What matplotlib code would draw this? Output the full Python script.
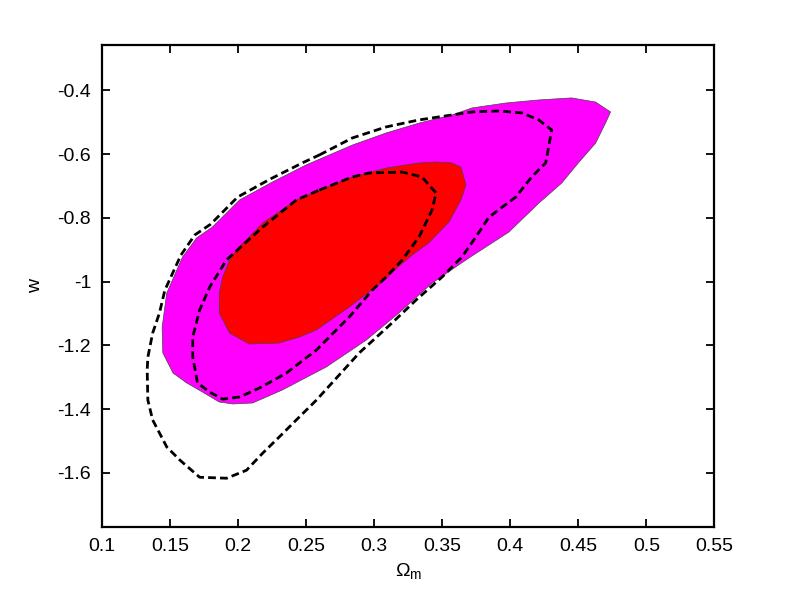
import matplotlib
matplotlib.use('Agg')
import matplotlib.pyplot as plt

plt.rcParams['font.family'] = ['Liberation Sans', 'DejaVu Sans']
plt.rcParams['mathtext.fontset'] = 'custom'
plt.rcParams['mathtext.rm'] = 'Liberation Sans'
plt.rcParams['mathtext.it'] = 'Liberation Sans'

# contour outlines (Omega_m, w)
outer_fill_x = [0.4737, 0.470, 0.4627, 0.450, 0.4378, 0.421, 0.3989, 0.3696, 0.3424, 0.318,
                0.294, 0.2647, 0.2325, 0.2105, 0.196, 0.186, 0.1738, 0.162, 0.152, 0.1445,
                0.144, 0.1474, 0.159, 0.1694, 0.181, 0.201, 0.225, 0.250, 0.2838, 0.3087,
                0.3329, 0.3571, 0.3718, 0.3967, 0.4209, 0.4451, 0.4627]
outer_fill_y = [-0.468, -0.503, -0.566, -0.628, -0.691, -0.754, -0.845, -0.926, -1.005, -1.099,
                -1.184, -1.268, -1.340, -1.381, -1.384, -1.378, -1.347, -1.318, -1.287, -1.224,
                -1.143, -1.036, -0.923, -0.863, -0.829, -0.744, -0.688, -0.634, -0.572, -0.534,
                -0.503, -0.4775, -0.4555, -0.440, -0.4304, -0.424, -0.437]

inner_fill_x = [0.3571, 0.3637, 0.3674, 0.3637, 0.355, 0.340, 0.3278, 0.3168, 0.3058, 0.2816,
                0.2574, 0.245, 0.230, 0.208, 0.1936, 0.186, 0.186, 0.1885, 0.1936, 0.1986,
                0.218, 0.2427, 0.2596, 0.2838, 0.3087, 0.3329, 0.3454]
inner_fill_y = [-0.628, -0.641, -0.697, -0.744, -0.813, -0.879, -0.917, -0.957, -1.0015, -1.080,
                -1.152, -1.174, -1.193, -1.196, -1.162, -1.099, -1.036, -0.986, -0.932, -0.901,
                -0.816, -0.744, -0.713, -0.672, -0.644, -0.628, -0.625]

inner_dash_x = [0.2596, 0.2838, 0.2963, 0.3205, 0.335, 0.3454, 0.3424, 0.3329, 0.3205, 0.3087,
                0.2985, 0.2816, 0.2574, 0.2354, 0.2156, 0.201, 0.1885, 0.179, 0.170, 0.1665,
                0.1665, 0.1716, 0.179, 0.1914, 0.218, 0.2427, 0.2596]
inner_dash_y = [-0.713, -0.672, -0.6595, -0.6565, -0.672, -0.722, -0.776, -0.860, -0.9325, -0.986,
                -1.027, -1.111, -1.215, -1.287, -1.334, -1.362, -1.369, -1.347, -1.318, -1.237,
                -1.174, -1.089, -1.017, -0.932, -0.829, -0.744, -0.713]

outer_dash_x = [0.2596, 0.2838, 0.3087, 0.3329, 0.3571, 0.3718, 0.3916, 0.4084, 0.4209, 0.4304,
                0.4282, 0.426, 0.4157, 0.404, 0.3843, 0.3747, 0.3644, 0.3498, 0.3307, 0.313,
                0.2889, 0.2574, 0.2427, 0.230, 0.218, 0.206, 0.1914, 0.1716, 0.157, 0.1474,
                0.137, 0.1335, 0.133, 0.1335, 0.137, 0.142, 0.146, 0.1578, 0.168, 0.1797,
                0.1995, 0.2237, 0.2485, 0.2596]
outer_dash_y = [-0.603, -0.5497, -0.515, -0.493, -0.4775, -0.468, -0.465, -0.471, -0.493, -0.5245,
                -0.578, -0.628, -0.672, -0.735, -0.798, -0.860, -0.923, -0.986, -1.058, -1.130,
                -1.224, -1.372, -1.434, -1.488, -1.538, -1.592, -1.617, -1.614, -1.560, -1.519,
                -1.434, -1.372, -1.278, -1.237, -1.162, -1.099, -1.027, -0.917, -0.854, -0.820,
                -0.735, -0.678, -0.625, -0.603]

xticks = [0.1, 0.15, 0.2, 0.25, 0.3, 0.35, 0.4, 0.45, 0.5, 0.55]
xticklabels = ['0.1', '0.15', '0.2', '0.25', '0.3', '0.35', '0.4', '0.45', '0.5', '0.55']
yticks = [-1.6, -1.4, -1.2, -1.0, -0.8, -0.6, -0.4]
yticklabels = ['-1.6', '-1.4', '-1.2', '-1', '-0.8', '-0.6', '-0.4']

fig = plt.figure(figsize=(7.9, 5.92), dpi=100)
ax = fig.add_axes([0.1295, 0.1098, 0.7747, 0.8142])

ax.fill(outer_fill_x, outer_fill_y, color='#ff00ff', edgecolor='#444444', linewidth=0.5)
ax.fill(inner_fill_x, inner_fill_y, color='#ff0000', edgecolor='#444444', linewidth=0.5)
ax.plot(inner_dash_x, inner_dash_y, color='black', linewidth=2.0, linestyle=(0, (2.8, 1.5)))
ax.plot(outer_dash_x, outer_dash_y, color='black', linewidth=2.0, linestyle=(0, (2.8, 1.5)))

ax.set_xlim(0.1, 0.55)
ax.set_ylim(-1.77, -0.258)
ax.set_xticks(xticks)
ax.set_xticklabels(xticklabels)
ax.set_yticks(yticks)
ax.set_yticklabels(yticklabels)
ax.tick_params(direction='in', top=True, right=True, length=6, width=1.3, labelsize=14, pad=8)
for s in ax.spines.values():
    s.set_linewidth(1.6)

ax.set_xlabel('Ω$_{\\rm m}$', fontsize=14, labelpad=4)
ax.set_ylabel('w', fontsize=14, labelpad=10)

fig.savefig('out.png', dpi=100)
